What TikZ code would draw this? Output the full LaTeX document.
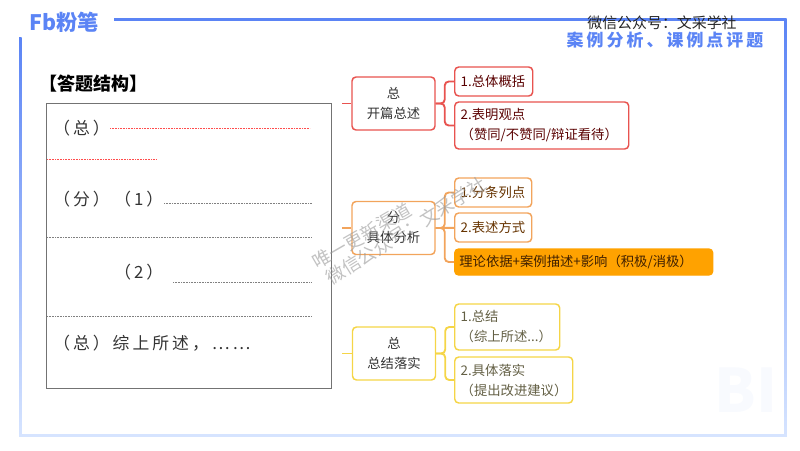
\documentclass[tikz,border=0pt]{standalone}
\usepackage{fontspec}
\setmainfont{Noto Sans CJK SC}
\newfontfamily\widefont[LetterSpace=18]{Noto Sans CJK SC}
\usepackage{xcolor}
\definecolor{frameblue}{HTML}{5B84F5}
\definecolor{framelight}{HTML}{D6E4FF}
\definecolor{mapred}{HTML}{E8534F}
\definecolor{maporange}{HTML}{F2A45C}
\definecolor{mapyellow}{HTML}{F5D547}
\definecolor{fillorange}{HTML}{FFA200}
\tikzset{
rootbox/.style={draw,line width=1.1pt,rounded corners=3pt,minimum width=62.25pt,minimum height=39.75pt,align=center,inner sep=0pt,font=\fontsize{10}{15}\selectfont,text=black!80},
leafbox/.style={draw,line width=1.1pt,rounded corners=3pt,anchor=west,align=left,inner xsep=4.5pt,inner ysep=0pt,font=\fontsize{10}{15}\selectfont},
branch/.style={line width=1.4pt,rounded corners=3pt},
answer/.style={anchor=west,inner sep=0pt,font=\widefont\fontsize{12.6}{14}\selectfont,text=black!80},
rule/.style={dash pattern=on 0.6pt off 0.6pt,line width=0.3pt},
stamp/.style={text=black!40,text opacity=0.6,font=\fontsize{13.8}{14}\selectfont,inner sep=0pt}
}
\begin{document}
\begin{tikzpicture}[x=0.75pt,y=-0.75pt]
\useasboundingbox (0,0) rectangle (800,450);
\node[text=frameblue!4,font=\bfseries\fontsize{45}{45}\selectfont,inner sep=0pt] (bi) at (746,390) {BI};
\fill[frameblue] (114,18) rectangle (786,20.5);
\shade[top color=frameblue,bottom color=framelight] (19,37) rectangle (21.5,436);
\shade[top color=frameblue,bottom color=framelight] (784,18) rectangle (786.5,436);
\fill[framelight] (19,434) rectangle (786.5,436.5);
\node[text=frameblue,anchor=west,inner sep=0pt,font=\bfseries\fontsize{16}{16}\selectfont] (logo) at (29,22) {Fb粉笔};
\node[inner sep=0pt,font=\fontsize{11.2}{14}\selectfont,text=black!85] (account) at (662,23) {微信公众号：文采学社};
\node[inner sep=0pt,text=frameblue,font=\widefont\bfseries\fontsize{12.7}{14}\selectfont] (heading) at (665,40) {案例分析、课例点评题};
\node[anchor=west,inner sep=0pt,font=\bfseries\fontsize{13.5}{14}\selectfont] (title) at (39,84) {【答题结构】};
\draw[black!55,line width=0.7pt] (46.5,103) rectangle (331,388);
\foreach \xa/\xb/\y in {110/310/128,47/157/159}
\draw[rule,red!70] (\xa,\y) -- (\xb,\y);
\foreach \xa/\xb/\y in {164/312/203,47/312/237,173/312/282,47/312/316}
\draw[rule,black!50] (\xa,\y) -- (\xb,\y);
\node[answer] (ans1) at (53,128) {（总）};
\node[answer] (ans2) at (53,199) {（分）};
\node[answer] (ans3) at (114,199) {（1）};
\node[answer] (ans4) at (114,272) {（2）};
\node[answer] (ans5) at (53,343) {（总）综上所述，……};
\coordinate (stubA) at (342,103.5);
\coordinate (stubB) at (342,228);
\coordinate (stubC) at (342,353.5);
\node[rootbox,draw=mapred] (rootA) at (393.5,103.5) {总\\开篇总述};
\node[leafbox,draw=mapred,text=red!35!black,text width=49.5pt,minimum height=21.75pt] (a1) at (454,81.5) {1.总体概括};
\node[leafbox,draw=mapred,text=red!35!black,text width=121.5pt,minimum height=35.25pt] (a2) at (454,125.5) {2.表明观点\\（赞同/不赞同/辩证看待）};
\node[rootbox,draw=maporange] (rootB) at (393.5,228) {分\\具体分析};
\node[leafbox,draw=maporange,text=orange!40!black,text width=48.75pt,minimum height=21.75pt] (b1) at (454,192.5) {1.分条列点};
\node[leafbox,draw=maporange,text=orange!40!black,text width=48.75pt,minimum height=21.75pt] (b2) at (454,227.5) {2.表述方式};
\node[leafbox,draw=fillorange,fill=fillorange,text=orange!25!black,text width=186.5pt,inner xsep=3.5pt,minimum height=19.5pt] (b3) at (454,262) {理论依据+案例描述+影响（积极/消极）};
\node[rootbox,draw=mapyellow] (rootC) at (394,353.5) {总\\总结落实};
\node[leafbox,draw=mapyellow,text=yellow!30!black,text width=69.75pt,minimum height=34.5pt] (c1) at (454,327) {1.总结\\（综上所述...）};
\node[leafbox,draw=mapyellow,text=yellow!30!black,text width=79.5pt,minimum height=34.5pt] (c2) at (454,380) {2.具体落实\\（提出改进建议）};
\draw[branch,mapred] (stubA) -- (rootA);
\draw[branch,mapred] (rootA.east) -- ++(9,0) |- (a1);
\draw[branch,mapred] (rootA.east) -- ++(9,0) |- (a2);
\draw[branch,maporange] (stubB) -- (rootB);
\draw[branch,maporange] (rootB.east) -- ++(9,0) |- (b1);
\draw[branch,maporange] (rootB.east) -- (b2);
\draw[branch,maporange] (rootB.east) -- ++(9,0) |- (b3);
\draw[branch,mapyellow] (stubC) -- (rootC);
\draw[branch,mapyellow] (rootC.east) -- ++(9,0) |- (c1);
\draw[branch,mapyellow] (rootC.east) -- ++(9,0) |- (c2);
\node[stamp,rotate=30] (stamp1) at (362,236) {唯一更新渠道};
\node[stamp,rotate=32] (stamp2) at (406,231) {微信公众号：文采学社};
\end{tikzpicture}
\end{document}
